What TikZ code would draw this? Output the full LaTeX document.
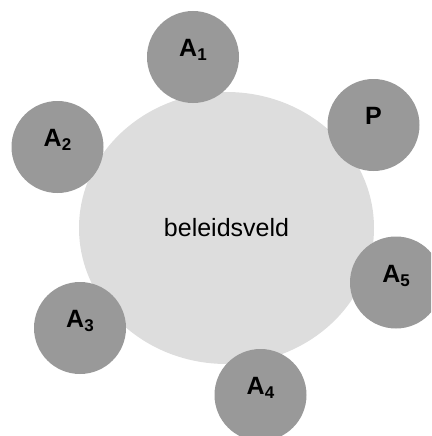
\documentclass[tikz,border=0pt]{standalone}
\usepackage{fontspec}
\setmainfont{Liberation Sans}
\usetikzlibrary{shapes.geometric}
\definecolor{veldgrey}{RGB}{221,221,221}
\definecolor{actorgrey}{RGB}{153,153,153}
\newcommand{\actorsub}[1]{\raisebox{-4pt}{\fontsize{17}{17}\selectfont #1}}

\begin{document}
\begin{tikzpicture}[x=1pt, y=-1pt,
    veld/.style={ellipse, fill=veldgrey, minimum width=295pt, minimum height=272pt, inner sep=0pt, font=\fontsize{25}{29}\selectfont},
    actor/.style={circle, fill=actorgrey, minimum size=92pt, inner sep=0pt, text height=18pt, text depth=19pt, font=\fontsize{25}{29}\selectfont\bfseries}]

    \useasboundingbox (0,0) rectangle (431,436);
    \clip (0,0) rectangle (431,436);

    % Policy field
    \node[veld] (veld) at (226.5,228) {beleidsveld};

    % Actors around the field
    \node[actor] (a1) at (193,57) {A\actorsub{1}};
    \node[actor] (p)  at (373.5,125) {P};
    \node[actor] (a2) at (57.5,147) {A\actorsub{2}};
    \node[actor] (a5) at (396,282.5) {A\actorsub{5}};
    \node[actor] (a3) at (80,328) {A\actorsub{3}};
    \node[actor] (a4) at (260.5,395) {A\actorsub{4}};

\end{tikzpicture}
\end{document}
